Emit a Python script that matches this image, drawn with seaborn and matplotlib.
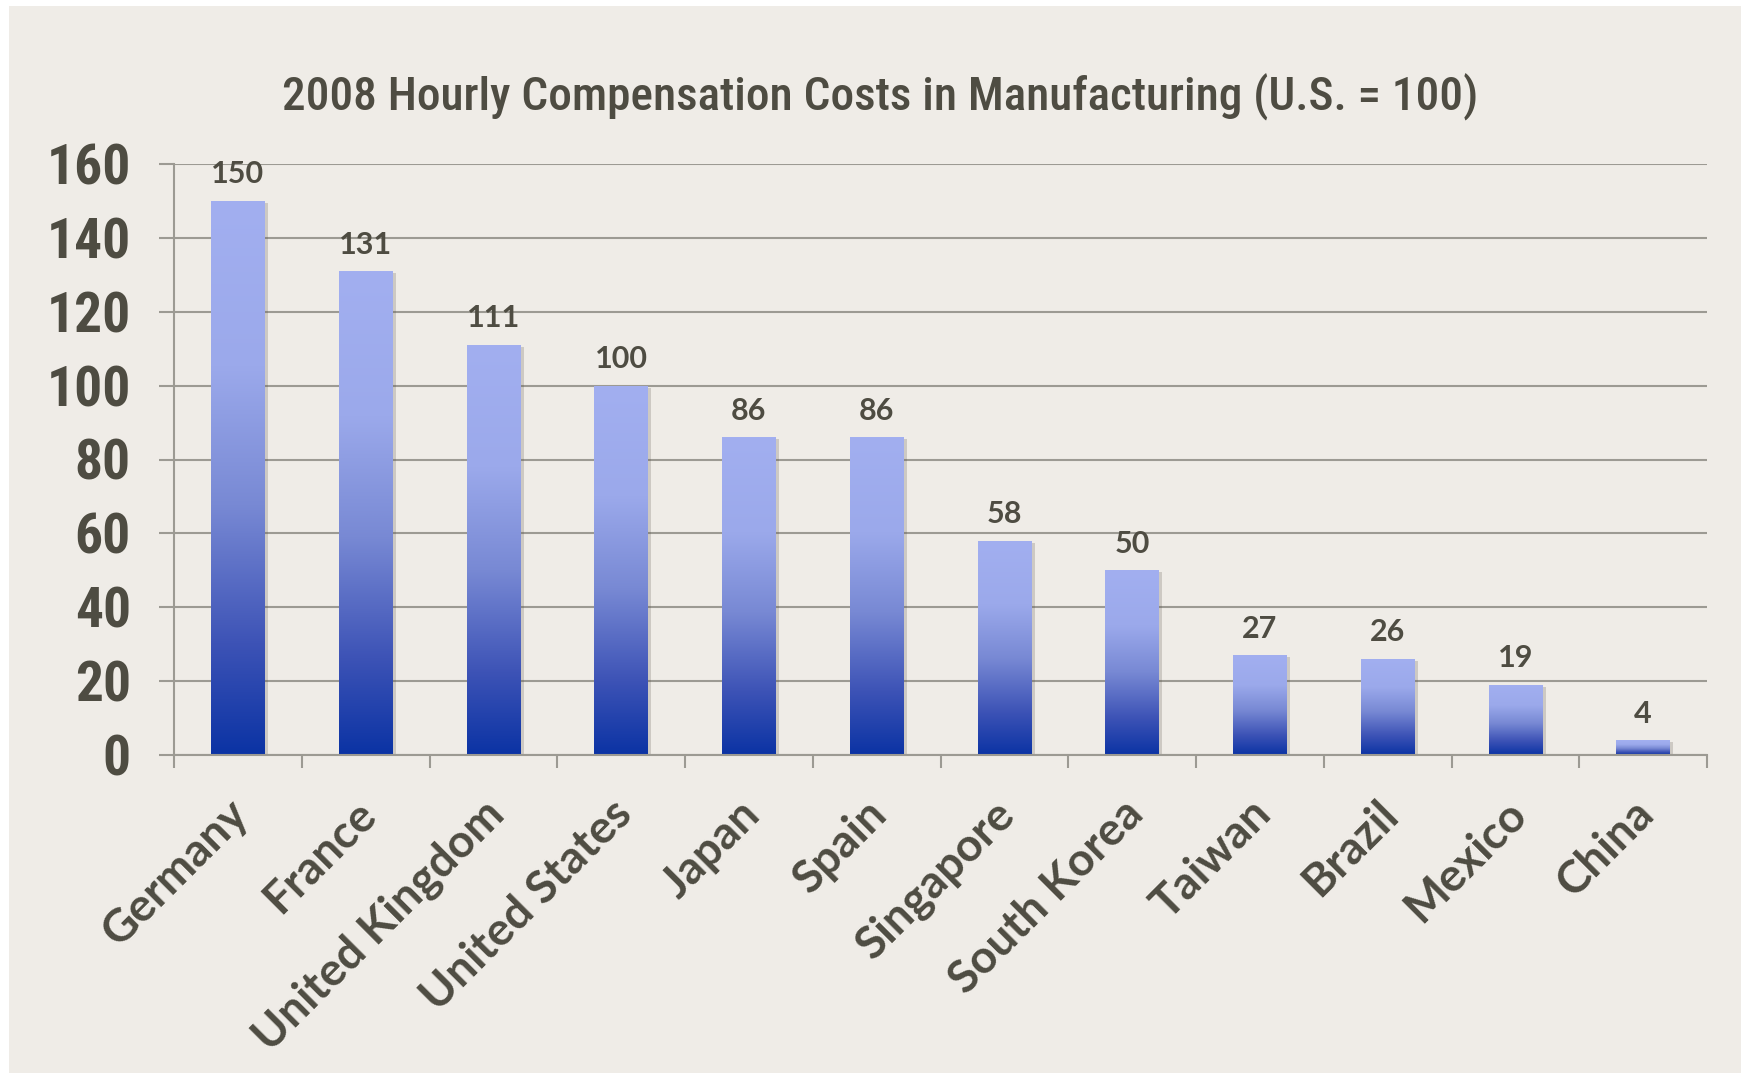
import numpy as np
import pandas as pd
import matplotlib
matplotlib.use("Agg")
import matplotlib.pyplot as plt
import matplotlib.transforms as mtrans
import seaborn as sns
from matplotlib.colors import LinearSegmentedColormap
from matplotlib.patches import Rectangle
from matplotlib import patheffects as pe
from matplotlib import font_manager as fm

# 2008 hourly compensation costs in manufacturing, indexed to U.S. = 100
countries = ["Germany", "France", "United Kingdom", "United States", "Japan",
             "Spain", "Singapore", "South Korea", "Taiwan", "Brazil",
             "Mexico", "China"]
values = [150, 131, 111, 100, 86, 86, 58, 50, 27, 26, 19, 4]
y_ticks = [0, 20, 40, 60, 80, 100, 120, 140, 160]
title = "2008 Hourly Compensation Costs in Manufacturing (U.S. = 100)"

df = pd.DataFrame({"country": countries, "value": values})

BG = "#EFECE7"
INK = "#4E4C42"
GRID = "#9C9A93"

sns.set_theme(style="white")
plt.rcParams["font.family"] = ["Lato", "DejaVu Sans"]

# pick a narrow face for the title and the value axis if one is installed
_fonts = fm.fontManager.ttflist
_names = {f.name for f in _fonts}
narrow_family, narrow_stretch = "Roboto", "normal"
for cand in ["Liberation Sans Narrow", "Roboto Condensed", "Open Sans Condensed",
             "Noto Sans Condensed", "DejaVu Sans Condensed"]:
    if cand in _names:
        narrow_family = cand
        break
else:
    for f in _fonts:
        if f.name == "DejaVu Sans" and str(f.stretch) in ("condensed", "semi-condensed", "587", "600", "650"):
            narrow_family, narrow_stretch = "DejaVu Sans", "condensed"
            break

W, H = 1741, 1073
fig = plt.figure(figsize=(W / 100, H / 100), dpi=100, facecolor=BG)
ax = fig.add_axes([174 / W, 1 - 755 / H, (1707 - 174) / W, (755 - 164) / H])
ax.set_facecolor(BG)

sns.barplot(data=df, x="country", y="value", ax=ax, color="#A1AEEF",
            width=0.42, saturation=1, zorder=3, edgecolor="none")

# vertical gradient fill for each bar, light at the top to deep blue at the base
cmap = LinearSegmentedColormap.from_list(
    "bar_grad",
    [(0.0, "#A2AFF0"), (0.3, "#9BA9EB"), (0.55, "#7889D4"),
     (0.8, "#3D53B6"), (1.0, "#0B33A4")])
grad = np.linspace(0, 1, 256)[:, None]
for p in ax.patches:
    x0, y0 = p.get_x(), p.get_y()
    w, h = p.get_width(), p.get_height()
    p.set_path_effects([pe.SimplePatchShadow(offset=(2.5, -1.5), shadow_rgbFace="#555044",
                                             alpha=0.22), pe.Normal()])
    im = ax.imshow(grad, extent=[x0, x0 + w, y0, y0 + h], aspect="auto",
                   cmap=cmap, zorder=3.5, interpolation="bilinear")
    im.set_clip_path(p)

# value labels above the bars
for i, v in enumerate(values):
    ax.annotate(f"{v}", (i, v), xytext=(0, 9), textcoords="offset points",
                ha="center", va="bottom", fontsize=22, color=INK,
                family=["Lato", "DejaVu Sans"], fontweight="bold", zorder=5)

ax.set_xlim(-0.5, len(countries) - 0.5)
ax.set_ylim(0, 160)
ax.set_yticks(y_ticks)
ax.set_yticklabels([str(t) for t in y_ticks], fontsize=40, color=INK,
                   family=[narrow_family, "DejaVu Sans"], fontweight="bold",
                   fontstretch=narrow_stretch)
ax.yaxis.grid(True, color=GRID, linewidth=1.5, zorder=1)
ax.set_axisbelow(True)

ax.set_xticks(range(len(countries)))
ax.set_xticklabels(countries, rotation=45, ha="right", rotation_mode="anchor",
                   fontsize=33, color=INK, fontweight="bold",
                   family=["Lato", "DejaVu Sans"])
ax.set_xticks(np.arange(-0.5, len(countries)), minor=True)
ax.tick_params(axis="x", which="major", length=0, pad=27)
ax.tick_params(axis="x", which="minor", length=9, width=1.5, color=GRID, bottom=True)
ax.tick_params(axis="y", which="major", length=11, width=1.5, color=GRID, left=True, pad=20)

# nudge the slanted country names a little to the left
shift = mtrans.ScaledTranslation(-11 / 100, 0, fig.dpi_scale_trans)
for lbl in ax.get_xticklabels():
    lbl.set_transform(lbl.get_transform() + shift)

for s in ["top", "right"]:
    ax.spines[s].set_visible(False)
for s in ["left", "bottom"]:
    ax.spines[s].set_color(GRID)
    ax.spines[s].set_linewidth(1.5)
    ax.spines[s].set_zorder(4)
ax.set_xlabel("")
ax.set_ylabel("")

ttl = fig.text(880 / W, 1 - 97 / H, title, ha="center", va="center", fontsize=34,
               color=INK, family=[narrow_family, "DejaVu Sans"],
               fontstretch=narrow_stretch, fontweight="medium")

# keep the title at its printed width (about 1210 px) whatever face was found
renderer = fig.canvas.get_renderer()
tw = ttl.get_window_extent(renderer).width
if tw > 1215:
    ttl.set_fontsize(34 * 1210 / tw)

# y tick labels: keep "160" about 82 px wide
yw = max(t.get_window_extent(renderer).width for t in ax.get_yticklabels())
if yw > 86:
    for t in ax.get_yticklabels():
        t.set_fontsize(40 * 82 / yw)

# thin white page margins on the left and top
fig.add_artist(Rectangle((0, 0), 9 / W, 1, transform=fig.transFigure,
                         facecolor="white", edgecolor="none", zorder=10))
fig.add_artist(Rectangle((0, 1 - 6 / H), 1, 6 / H, transform=fig.transFigure,
                         facecolor="white", edgecolor="none", zorder=10))

fig.savefig("out.png", dpi=100, facecolor=BG)
